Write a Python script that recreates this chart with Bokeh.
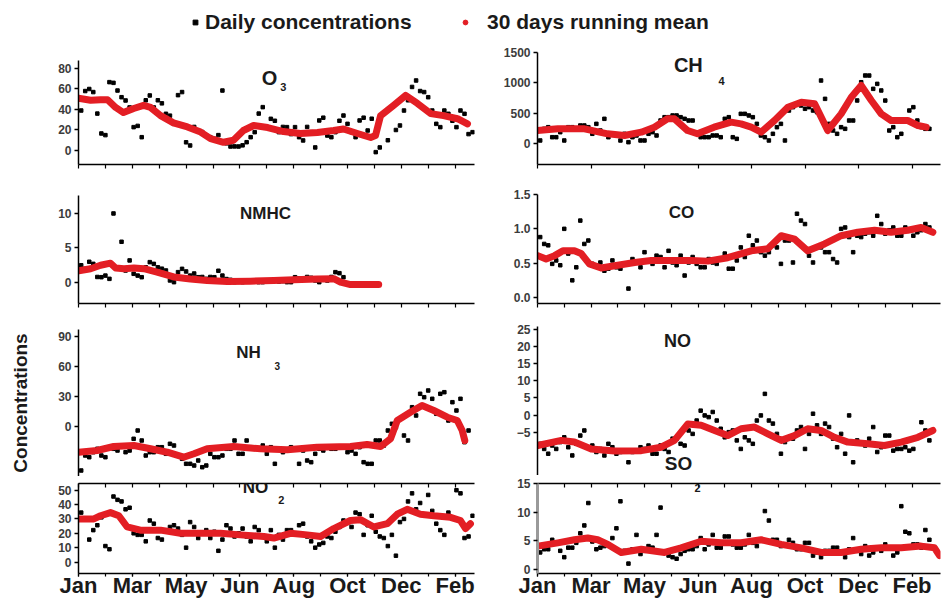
import numpy as np
from bokeh.plotting import figure
from bokeh.layouts import column, row
from bokeh.models import (Range1d, FixedTicker, Label, Legend, LegendItem,
                          LinearAxis, PrintfTickFormatter)
from bokeh.embed import file_html
from bokeh.resources import INLINE

# ---------------- data ----------------
MONTH_TICKS = [0, 1, 2, 3, 4, 5, 6, 7, 8, 9, 10, 11, 12, 13, 14]
LABEL_TICKS = [0, 2, 4, 6, 8, 10, 12, 14]
MONTH_LABELS = ["Jan", "Mar", "May", "Jun", "Aug", "Oct", "Dec", "Feb"]

DAY_X = [0.1, 0.4, 0.7, 1.0, 1.3, 1.6, 1.9, 2.2, 2.5, 2.8, 3.1, 3.4, 3.7, 4.0, 4.3, 4.6,
         4.9, 5.2, 5.5, 5.8, 6.1, 6.4, 6.7, 7.0, 7.3, 7.6, 7.9, 8.2, 8.5, 8.8, 9.1, 9.4,
         9.7, 10.0, 10.3, 10.6, 10.9, 11.2, 11.5, 11.8, 12.1, 12.4, 12.7, 13.0, 13.3,
         13.6, 13.9, 14.2, 14.5]
DAY_X_B = [0.25, 0.55, 0.85, 1.15, 1.45, 1.75, 2.05, 2.35, 2.65, 2.95, 3.25, 3.55, 3.85,
           4.15, 4.45, 4.75, 5.05, 5.35, 5.65, 5.95, 6.25, 6.55, 6.85, 7.15, 7.45, 7.75,
           8.05, 8.35, 8.65, 8.95, 9.25, 9.55, 9.85, 10.15, 10.45, 10.75, 11.05, 11.35,
           11.65, 11.95, 12.25, 12.55, 12.85, 13.15, 13.45, 13.75, 14.05, 14.35, 14.65]

O3_DAILY = [39, 60, 36, 15, 66, 52, 42, 24, 49, 42, 46, 34, 54, 8, 23, 18, 13, 15, 7, 4,
            5, 13, 36, 23, 29, 23, 16, 13, 23, 3, 32, 13, 29, 26, 13, 32, 31, 3, 10, 20,
            39, 62, 58, 52, 26, 39, 29, 39, 16]
O3_DAILY_B = [58, 57, 16.6, 66.7, 58.5, 48.8, 22.8, 13, 53.7, 49, 35.8, 26, 57, 4.9, 19.5,
              14.6, 11.4, 58.5, 3.9, 3.9, 8.1, 17.9, 42.3, 30.9, 17.9, 22.8, 22.8, 9.8,
              17.9, 29.3, 14.6, 17.9, 34.1, 17.9, 29.3, 19.5, -1.6, None, None, 24.4, 49,
              68.3, 57, 39, 22.8, 35.8, 22.8, 35.8, 17.9]
O3_MEAN_X = [0, 0.45, 0.82, 1.08, 1.38, 1.67, 2.05, 2.42, 2.68, 3.05, 3.53, 4.05, 4.54,
             4.91, 5.39, 5.76, 6.13, 6.51, 7.03, 7.62, 8.25, 8.88, 9.48, 9.85, 10.37,
             10.86, 11.04, 11.23, 11.71, 12.16, 12.6, 13.09, 13.57, 14.09, 14.46]
O3_MEAN = [51, 49, 49.5, 49.5, 42, 37, 41, 44, 42, 34, 27, 23, 18, 11.5, 8, 10, 19.5,
           24.4, 22.4, 18.5, 16.6, 17.6, 19.5, 21, 16.6, 12.7, 14.6, 34, 44, 53.7, 45.9,
           36, 34, 31, 26]

CH4_DAILY = [50, 269, 104, 50, 269, 297, 269, 324, 407, 160, 50, 22, 132, 50, 187, 379,
             434, 462, 407, 379, 104, 104, 132, 407, 104, 489, 462, 324, 104, 160, 324,
             544, 654, 572, 544, 1038, 324, 160, 242, 379, 1010, 1120, 983, 708, 269, 160,
             544, 379, 242]
CH4_DAILY_B = [242, 104, 187, 269, 242, 297, 160, 214, 104, 132, 160, 104, 50, 160, 132,
               434, 462, 434, 379, 160, 104, 132, 104, 434, 77, 489, 434, 132, 50, 269, 50,
               599, 626, 599, 516, 736, 214, 269, 379, 709, 1121, 901, 874, 214, 104, 379,
               599, 269, 242]
CH4_MEAN_X = [0, 0.76, 1.76, 2.62, 3.25, 3.88, 4.37, 4.86, 5.12, 5.61, 5.98, 6.6, 7.24,
              7.61, 7.99, 8.36, 8.86, 9.36, 9.86, 10.36, 10.85, 11.35, 11.73, 12.1, 12.48,
              12.85, 13.22, 13.84, 14.22, 14.53]
CH4_MEAN = [214, 242, 242, 160, 132, 187, 269, 407, 407, 214, 160, 269, 352, 324, 269,
            187, 379, 599, 681, 654, 214, 489, 763, 956, 709, 489, 379, 379, 297, 269]

NMHC_DAILY = [2.5, 3.0, 0.8, 1.0, 10.0, 5.9, 3.2, 1.0, 2.2, 2.7, 2.0, 0.3, 1.5, 1.6, 1.3,
              0.8, 0.8, 1.7, 0.5, 0.05, 0.05, 0.3, 0.05, 0.3, 0.4, 0.2, 0.05, 0.6, 0.8,
              0.3, 0.4, 0.8, 1.35, None, None, None, None, None, None, None, None, None,
              None, None, None, None, None, None, None]
NMHC_DAILY_B = [1.98, 2.7, 0.77, 0.53, 2.2, 1.74, 1.26, 0.77, 2.95, 2.2, 1.74, 0.05, 1.98,
                1.0, 0.77, 0.53, 0.77, 1.0, 0.39, 0.14, 0.29, 0.14, 0.05, 0.29, 0.14, 0.05,
                0.77, 0.53, 0.68, 0.05, 0.29, 1.5, 0.77, None, None, None, None, None, None,
                None, None, None, None, None, None, None, None, None, None]
NMHC_MEAN_X = [0.01, 0.45, 0.82, 1.19, 1.38, 1.69, 2.06, 2.43, 2.92, 3.54, 4.16, 4.78,
               5.53, 6.39, 7.26, 8.0, 8.87, 9.49, 9.74, 10.11, 11.16]
NMHC_MEAN = [1.7, 2.0, 2.5, 2.8, 2.1, 2.0, 2.1, 2.0, 1.5, 0.8, 0.5, 0.3, 0.15, 0.2, 0.3,
             0.4, 0.5, 0.55, 0.05, -0.3, -0.3]

CO_DAILY = [0.88, 0.76, 0.54, 1.0, 0.25, 1.12, 0.83, 0.47, 0.39, 0.54, 0.42, 0.13, 0.51,
            0.66, 0.49, 0.59, 0.68, 0.47, 0.32, 0.59, 0.44, 0.56, 0.49, 0.64, 0.42, 0.73,
            0.9, 0.83, 0.61, 0.76, 0.49, 0.83, 1.22, 1.07, 0.51, 0.73, 0.66, 0.51, 1.02,
            0.66, 0.88, 0.95, 1.19, 0.93, 1.02, 0.9, 0.98, 0.95, 1.07]
CO_DAILY_B = [0.78, 0.49, 0.47, 0.64, 0.44, 0.78, 0.49, 0.51, 0.42, 0.44, 0.49, 0.56, 0.44,
              0.54, 0.61, 0.44, 0.51, 0.61, 0.51, 0.49, 0.44, 0.51, 0.56, 0.42, 0.54, 0.59,
              0.76, 0.66, 0.66, 0.73, 0.83, 0.51, 1.12, 0.61, 0.73, 0.66, 0.56, 1.0, 0.88,
              0.9, 0.93, 0.9, 1.07, 0.98, 0.9, 1.02, 0.9, 0.98, 1.02]
CO_MEAN_X = [0.01, 0.32, 0.64, 0.95, 1.38, 1.63, 1.94, 2.38, 3.0, 3.63, 4.25, 5.12, 5.75,
             6.37, 7.11, 7.99, 8.61, 9.11, 9.61, 10.1, 10.73, 11.35, 11.97, 12.6, 13.22,
             13.84, 14.34, 14.78]
CO_MEAN = [0.61, 0.56, 0.61, 0.68, 0.68, 0.64, 0.49, 0.43, 0.47, 0.51, 0.54, 0.54, 0.54,
           0.53, 0.58, 0.68, 0.71, 0.9, 0.85, 0.68, 0.78, 0.9, 0.95, 0.98, 0.95, 0.98,
           1.02, 0.95]

NH3_DAILY = [-44, -30.7, -22.3, -30.7, -22.3, -19, -24, -4, -29, -25.7, -20.7, -17.3, -29,
             -37.3, -39, -40.7, -27.3, -30.7, -22.3, -14, -27.3, -20.7, -22.3, -27.3,
             -37.3, -25.7, -20.7, -37.3, -34, -27.3, -24, -22.3, -20.7, -25.7, -27.3,
             -35.7, -37.3, -14, -4, -0.7, -9, 19.3, 32.7, 36, 12.7, 34.3, 24.3, 27.7, -4]
NH3_DAILY_B = [-29, -25.7, -29, -20.7, -24, -25.7, -12.3, -14, -25.7, -20.7, -27.3, -19,
               -32.3, -37.3, -34, -39, -30.7, -29, -22.3, -27.3, -14, -22.3, -19, -20.7,
               -22.3, -24, -22.3, -24, -35.7, -22.3, -20.7, -22.3, -20.7, -24, -20.7,
               -37.3, -14, -19, 2.7, 7.7, -14, 11, 29.3, 27.7, 32.7, 6, 16, -15.7, None]
NH3_MEAN_X = [0.01, 0.69, 1.31, 2.06, 2.68, 3.3, 3.91, 4.29, 4.78, 5.77, 6.77, 7.76, 8.87,
              10.11, 10.73, 11.23, 11.6, 11.85, 12.34, 12.77, 13.21, 13.71, 14.08, 14.26,
              14.36]
NH3_MEAN = [-25.7, -24, -20, -19, -22.3, -25.7, -30.7, -27.3, -22.3, -20, -22.3, -23.3,
            -20.7, -20, -18, -20, -12.3, 6, 14.3, 21, 16, 9.3, 6, -3.7, -14]

NO_DAILY = [-8.4, -11.3, -9.9, -6.5, -11.8, -6, -9.4, -10.8, -11.8, -9.4, -10.8, -13.8,
            -10.4, -9.9, -11.3, -8.9, -10.8, -6.9, -8.9, -5.5, 1.3, -0.6, -1.6, -6.5, -4.5,
            -9.9, -7.4, -1.6, 6.2, -2.5, -11.3, -6.5, -4.5, -9.9, 0.4, -5.5, -3.5, -9.4,
            -11.3, -13.8, -8.4, -6.9, -10.8, -6, -10.4, -9.9, -10.4, -6.5, -4.5]
NO_DAILY_B = [-9.9, -8.9, -7.9, -9.4, -8.4, -4.5, -8.9, -9.9, -8.4, -11.3, -10.4, -10.8,
              -9.4, -8.9, -11.3, -9.9, -6.9, -8.4, -4.5, -1.6, -0.1, 0.9, -4, -5, -7.4,
              -6.5, -8.4, -0.1, -1.6, -5.5, -7.9, -6.9, -3.5, -5.5, -3, -2.5, -6.9, -5.5,
              -0.1, -7.4, -8.9, -3.5, -9.4, -6, -9.9, -9.4, -9.9, -2.1, -7.4]
NO_MEAN_X = [0.01, 0.89, 1.38, 2.01, 2.88, 3.88, 4.62, 5.12, 5.62, 6.12, 6.62, 7.11, 7.61,
             8.11, 8.61, 9.11, 9.61, 10.1, 10.6, 11.1, 11.6, 12.35, 12.97, 13.6, 14.22,
             14.78]
NO_MEAN = [-8.9, -7.4, -7.9, -9.9, -10.5, -10.4, -9.4, -7.4, -2.6, -3.0, -4.5, -6.0, -4.0,
           -3.5, -5.5, -7.4, -6.0, -4.0, -4.5, -6.5, -7.9, -8.4, -8.9, -7.9, -6.5, -4.5]

NO2_DAILY = [34.4, 15.6, 25.6, 11.1, 45.6, 42.2, 37.8, 18.9, 14.4, 26.7, 15.6, 24.4, 23.3,
             10, 24.4, 20, 16.7, 7.8, 25.6, 17.8, 23.3, 14.4, 22.2, 14.4, 10, 15.6, 22.2,
             25.6, 17.8, 10, 13.3, 16.7, 24.4, 27.8, 34.4, 18.9, 32.2, 17.8, 11.1, 4.4, 30,
             47.8, 41.1, 46.7, 26.7, 18.9, 31.1, 47.8, 17.8]
NO2_DAILY_B = [30, 22.2, 31.1, 8.9, 43.3, 36.7, 20, 18.9, 28.9, 16.7, 21.1, 25.6, 18.9,
               27.8, 16.7, 22.2, 21.1, 15.6, 23.3, 20, 17.8, 24.4, 17.8, 22.2, 18.9, 22.2,
               20, 26.7, 14.4, 12.2, 17.8, 21.1, 28.9, 24.4, 33.3, 25.6, 21.1, 16.7, 18.9,
               27.8, 42.2, 36.7, 32.2, 35.6, 22.2, 34.4, 50, 16.7, 32.2]
NO2_MEAN_X = [0.01, 0.57, 0.82, 1.19, 1.5, 1.81, 2.3, 3.05, 3.79, 4.54, 5.28, 6.02, 6.89,
              7.26, 7.88, 8.5, 9.0, 9.49, 10.11, 10.48, 10.98, 11.48, 11.85, 12.22, 12.71,
              13.21, 13.83, 14.2, 14.39, 14.57]
NO2_MEAN = [30, 30, 32.2, 34.4, 32.2, 24.4, 22.2, 22.2, 20, 20, 20, 18.9, 17.8, 16.7, 20,
            18.9, 17.8, 23.3, 28.9, 29.5, 24.4, 26.7, 33.3, 36.7, 33.3, 32.2, 31.1, 28.9,
            23.3, 26.7]

SO2_DAILY = [3.0, 3.55, 4.67, 2.17, 3.83, 6.33, 11.6, 3.55, 4.1, 5.5, 11.9, 1.05, 6.05,
             3.28, 3.83, 10.8, 2.45, 1.9, 3.28, 3.55, 5.5, 4.4, 3.83, 5.78, 4.4, 3.83, 6.05,
             4.1, 10.2, 5.2, 4.1, 5.2, 3.55, 4.67, 2.45, 2.17, 3.28, 3.83, 2.17, 5.5, 2.72,
             2.45, 3.83, 4.4, 2.45, 11.05, 6.33, 4.4, 6.9]
SO2_DAILY_B = [3.55, 5.2, 3.28, 3.83, 4.67, 7.7, 4.9, 3.83, 4.4, 7.2, 3.28, 3.55, 2.72,
               4.1, 6.05, 3.0, 2.17, 2.72, 3.55, 4.1, 3.55, 6.05, 3.83, 5.78, 3.83, 4.4,
               4.67, 5.2, 8.55, 5.2, 4.4, 4.67, 3.55, 4.67, 3.0, 3.28, 3.83, 3.0, 3.55,
               3.28, 4.1, 3.0, 3.28, 3.83, 3.0, 6.6, 4.4, 3.83, 5.2]
SO2_MEAN_X = [0.01, 0.76, 1.38, 1.88, 2.25, 2.63, 3.13, 3.88, 4.75, 5.37, 6.12, 6.87, 7.61,
              8.36, 9.11, 9.86, 10.61, 11.35, 12.1, 12.85, 13.6, 14.34, 14.84, 15.03]
SO2_MEAN = [4.1, 4.67, 5.2, 5.5, 5.2, 4.4, 3.0, 3.55, 3.0, 3.8, 4.95, 4.67, 4.67, 5.2, 4.4,
            3.8, 3.0, 3.0, 3.55, 3.8, 3.8, 4.1, 3.8, 2.45]

# ---------------- styling helpers ----------------
FONT = "Liberation Sans"
RED = "#e31e24"
INK = "#1a1a1a"


def panel(width, height, x_end, y_rng, borders, x_loc):
    l, r, t, b = borders
    p = figure(width=width, height=height, x_range=Range1d(0, x_end),
               y_range=Range1d(*y_rng), x_axis_location=x_loc,
               output_backend="svg", toolbar_location=None,
               min_border_left=l, min_border_right=r, min_border_top=t,
               min_border_bottom=b)
    p.outline_line_color = None
    p.grid.grid_line_color = None
    p.background_fill_color = "white"
    p.border_fill_color = "white"
    return p


def style_y(p, ticks, color="black", width=1.5, fmt=None):
    ax = p.yaxis[0]
    ax.ticker = FixedTicker(ticks=ticks)
    ax.major_tick_out = 4
    ax.major_tick_in = 0
    ax.minor_tick_line_color = None
    ax.axis_line_color = color
    ax.axis_line_width = width
    ax.major_tick_line_width = 1.5
    ax.major_label_text_font = FONT
    ax.major_label_text_font_style = "bold"
    ax.major_label_text_font_size = "12px"
    ax.major_label_text_color = "#3c3c3c"
    ax.major_label_standoff = 3
    if fmt is not None:
        ax.formatter = fmt


def style_x(ax, minor, labels=False, tick_in=0, tick_out=4):
    ax.minor_tick_in = tick_in
    ax.minor_tick_out = tick_out
    ax.minor_tick_line_color = "black"
    ax.minor_tick_line_width = 1.2
    ax.axis_line_width = 1.5
    if labels:
        ax.ticker = FixedTicker(ticks=LABEL_TICKS, minor_ticks=minor)
        ax.major_label_overrides = dict(zip(LABEL_TICKS, MONTH_LABELS))
        ax.major_tick_in = tick_in
        ax.major_tick_out = tick_out
        ax.major_tick_line_width = 1.2
        ax.major_label_text_font = FONT
        ax.major_label_text_font_style = "bold"
        ax.major_label_text_font_size = "22px"
        ax.major_label_text_color = INK
        ax.major_label_standoff = -4
    else:
        ax.ticker = FixedTicker(ticks=[], minor_ticks=minor)
        ax.major_label_standoff = 0


def draw(p, daily, daily_b, mean_x, mean_y):
    p.scatter(DAY_X, np.array(daily, dtype=float), marker="square", size=3.5,
              color="black")
    p.scatter(DAY_X_B, np.array(daily_b, dtype=float), marker="square", size=3.5,
              color="black")
    p.line(mean_x, mean_y, line_width=7, color=RED, line_join="round",
           line_cap="round")


def title(p, x, y, text, size="18px", align="center"):
    p.add_layout(Label(x=x, y=y, text=text, text_font=FONT, text_font_style="bold",
                       text_font_size=size, text_align=align, text_baseline="middle",
                       text_color=INK))


LW, RW = 478, 470
LX_END = 396 / 26.9
RX_END = 403 / 26.75

# ---------------- left column ----------------
o3 = panel(LW, 137, LX_END, (-13.66, 87.8), (78, 4, 17, 16), "below")
style_y(o3, [0, 20, 40, 60, 80])
style_x(o3.xaxis[0], MONTH_TICKS)
draw(o3, O3_DAILY, O3_DAILY_B, O3_MEAN_X, O3_MEAN)
title(o3, 7.1, 71.2, "O", "20px")
title(o3, 7.5, 61.5, "3", "11px", "left")

nmhc = panel(LW, 130, LX_END, (-3.04, 12.6), (78, 4, 15, 7), "below")
style_y(nmhc, [0, 5, 10])
style_x(nmhc.xaxis[0], MONTH_TICKS)
draw(nmhc, NMHC_DAILY, NMHC_DAILY_B, NMHC_MEAN_X, NMHC_MEAN)
title(nmhc, 6.95, 10, "NMHC", "17px")

nh3 = panel(LW, 166, LX_END, (-50, 97), (78, 4, 19, 0), None)
style_y(nh3, [0, 30, 60, 90])
nh3.yaxis[0].axis_label = "Concentrations"
nh3.yaxis[0].axis_label_text_font = FONT
nh3.yaxis[0].axis_label_text_font_style = "bold"
nh3.yaxis[0].axis_label_text_font_size = "19px"
nh3.yaxis[0].axis_label_text_color = INK
nh3.yaxis[0].axis_label_standoff = 24
draw(nh3, NH3_DAILY, NH3_DAILY_B, NH3_MEAN_X, NH3_MEAN)
title(nh3, 6.32, 74, "NH", "17px")
title(nh3, 7.29, 61, "3", "10px", "left")

no2 = panel(LW, 124, LX_END, (-8, 54.67), (78, 4, 7, 23), "below")
style_y(no2, [0, 10, 20, 30, 40, 50])
style_x(no2.xaxis[0], MONTH_TICKS, labels=True, tick_out=3)
top_ax = LinearAxis()
no2.add_layout(top_ax, "above")
style_x(top_ax, MONTH_TICKS, tick_in=4, tick_out=0)
draw(no2, NO2_DAILY, NO2_DAILY_B, NO2_MEAN_X, NO2_MEAN)
title(no2, 6.58, 52, "NO", "17px")
title(no2, 7.43, 43.3, "2", "11px", "left")

# ---------------- right column ----------------
ch4 = panel(RW, 137, RX_END, (-346, 1500), (59, 8, 9, 16), "below")
style_y(ch4, [0, 500, 1000, 1500])
style_x(ch4.xaxis[0], LABEL_TICKS)
draw(ch4, CH4_DAILY, CH4_DAILY_B, CH4_MEAN_X, CH4_MEAN)
title(ch4, 5.64, 1286, "CH", "20px")
title(ch4, 6.77, 1038, "4", "11px", "left")

co = panel(RW, 130, RX_END, (-0.087, 1.5), (59, 8, 14, 7), "below")
style_y(co, [0, 0.5, 1.0, 1.5], fmt=PrintfTickFormatter(format="%.1f"))
style_x(co.xaxis[0], MONTH_TICKS)
draw(co, CO_DAILY, CO_DAILY_B, CO_MEAN_X, CO_MEAN)
title(co, 5.38, 1.24, "CO", "17px")

no = panel(RW, 165, RX_END, (-17.67, 25.9), (59, 8, 16, 0), None)
style_y(no, [-5, 0, 5, 10, 15, 20, 25])
draw(no, NO_DAILY, NO_DAILY_B, NO_MEAN_X, NO_MEAN)
title(no, 5.23, 21.8, "NO", "18px")
title(no, 5.27, -14.2, "SO", "19px")

so2 = panel(RW, 125, RX_END, (-0.67, 15), (59, 8, 8, 23), "below")
style_y(so2, [0, 5, 10, 15], color="#9a9a9a", width=3)
style_x(so2.xaxis[0], MONTH_TICKS, labels=True, tick_out=3)
top_ax2 = LinearAxis()
so2.add_layout(top_ax2, "above")
style_x(top_ax2, MONTH_TICKS, tick_in=4, tick_out=0)
draw(so2, SO2_DAILY, SO2_DAILY_B, SO2_MEAN_X, SO2_MEAN)
title(so2, 5.87, 14.3, "2", "11px", "left")

# ---------------- legend strip ----------------
lf = figure(width=948, height=43, x_range=Range1d(0, 1), y_range=Range1d(0, 1),
            x_axis_location=None, y_axis_location=None, output_backend="svg",
            toolbar_location=None, min_border=0)
lf.outline_line_color = None
lf.grid.grid_line_color = None
r_daily = lf.scatter([np.nan], [np.nan], marker="square", size=4, color="black")
r_mean = lf.scatter([np.nan], [np.nan], marker="circle", size=8, color=RED)


def legend(item_label, rend, loc, standoff):
    return Legend(items=[LegendItem(label=item_label, renderers=[rend])], location=loc,
                  label_text_font=FONT, label_text_font_style="bold",
                  label_text_font_size="21px", label_text_color=INK,
                  glyph_width=12, glyph_height=12, label_standoff=standoff,
                  padding=0, margin=0, border_line_color=None,
                  background_fill_alpha=0)


lf.add_layout(legend("Daily concentrations", r_daily, (189, 9), 4))
lf.add_layout(legend("30 days running mean", r_mean, (459, 9), 16))

layout = column(lf, row(column(o3, nmhc, nh3, no2), column(ch4, co, no, so2)))

open("out.html", "w").write(file_html(layout, INLINE))
